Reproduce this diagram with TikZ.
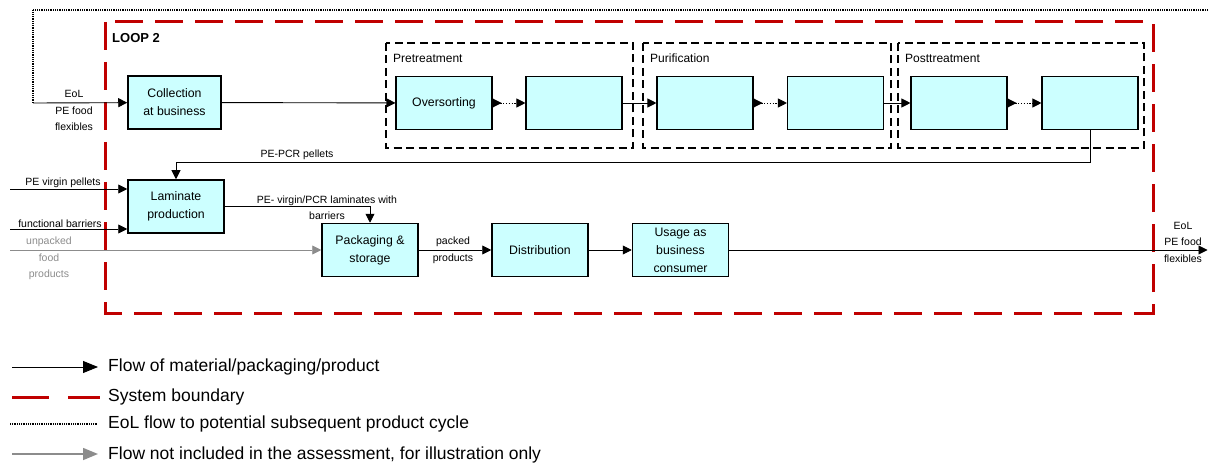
\documentclass[tikz,border=0pt]{standalone}
\usepackage{fontspec}
\setmainfont{Liberation Sans}
\usetikzlibrary{arrows.meta}
\definecolor{boxcyan}{HTML}{CCFFFF}
\definecolor{loopred}{HTML}{C00000}
\definecolor{flowgray}{HTML}{8C8C8C}
\begin{document}
\begin{tikzpicture}[x=1pt,y=-1pt,
  proc/.style={draw,line width=1.5pt,fill=boxcyan,minimum width=96pt,minimum height=53pt,
    inner sep=1pt,align=center,font=\fontsize{12.3}{18}\selectfont},
  subproc/.style={proc,line width=1.1pt},
  flow/.style={line width=0.9pt,-{Triangle[length=9pt,width=9pt]}},
  greyflow/.style={flow,flowgray},
  bigtip/.style={-{Triangle[length=15pt,width=12pt]}},
  dotflow/.style={line width=0.9pt,dash pattern=on 1.2pt off 1.6pt,
    {Triangle[length=9pt,width=9pt,reversed]}-{Triangle[length=9pt,width=9pt]}},
  eolline/.style={line width=2pt,dash pattern=on 1pt off 0.8pt},
  boundary/.style={loopred,line width=3pt,dash pattern=on 28pt off 12pt},
  grp/.style={line width=2.6pt,dash pattern=on 8pt off 4.5pt},
  lbl/.style={align=center,font=\fontsize{10.5}{16.5}\selectfont,inner sep=0pt},
  grplbl/.style={anchor=west,font=\fontsize{12}{14}\selectfont,inner sep=0pt},
  legtext/.style={anchor=west,font=\fontsize{17.5}{20}\selectfont,inner sep=0pt}]
  \useasboundingbox (0,0) rectangle (1208,468);

  % system boundary
  \draw[boundary] (105,22) rectangle (1153,313);
  \node[anchor=west,font=\fontsize{13}{15}\selectfont\bfseries,inner sep=0pt] (loop) at (112,38) {LOOP 2};

  % process groups
  \draw[grp] (386,43) rectangle (633,148);
  \draw[grp] (643,43) rectangle (891,148);
  \draw[grp] (898,43) rectangle (1144,148);
  \node[grplbl] (pretxt) at (393,58) {Pretreatment};
  \node[grplbl] (purtxt) at (650,58) {Purification};
  \node[grplbl] (posttxt) at (905,58) {Posttreatment};

  % processes
  \node[proc,minimum width=93pt] (collect) at (174.5,102.5) {Collection\\at business};
  \node[subproc] (over) at (444,103) {Oversorting};
  \node[subproc] (pre2) at (574,103) {};
  \node[subproc] (pur1) at (705,103) {};
  \node[subproc] (pur2) at (835.5,103) {};
  \node[subproc] (post1) at (959,103) {};
  \node[subproc] (post2) at (1090,103) {};
  \node[proc] (laminate) at (176,206.5) {Laminate\\production};
  \node[proc] (pack) at (370,250) {Packaging \&\\storage};
  \node[proc] (distrib) at (540,250) {Distribution};
  \node[proc] (usage) at (680.5,250) {Usage as\\business\\consumer};

  % loose ends
  \coordinate (topR) at (1208,10);
  \coordinate (topL) at (33,10);
  \coordinate (inL) at (33,103);
  \coordinate (vp) at (10,189);
  \coordinate (fb) at (10,229);
  \coordinate (uf) at (10,250);
  \coordinate (eolR) at (1207.5,250);

  % flows
  \draw[eolline] (topR) -- (topL) -- (inL);
  \draw[flow] (inL) -- (collect);
  \node[lbl] (eolin) at (74,110.5) {EoL\\PE food\\flexibles};
  \draw[flow] (collect) -- (over);
  \draw[dotflow] (over) -- (pre2);
  \draw[flow] (pre2) -- (pur1);
  \draw[dotflow] (pur1) -- (pur2);
  \draw[flow] (pur2) -- (post1);
  \draw[dotflow] (post1) -- (post2);
  \draw[flow] (post2.south) -- ++(0,32) -| (laminate.north);
  \node[lbl] (pcr) at (297,154.5) {PE-PCR pellets};
  \draw[flow] (vp) -- (vp -| laminate.west);
  \node[lbl] (vptxt) at (63,182.5) {PE virgin pellets};
  \draw[flow] (fb) -- (fb -| laminate.west);
  \node[lbl] (fbtxt) at (60,224) {functional barriers};
  \draw[greyflow] (uf) -- (pack);
  \node[lbl,text=flowgray] (uftxt) at (49,258.5) {unpacked\\food\\products};
  \draw[flow] (laminate.east) -| (pack.north);
  \node[lbl] (lamtxt) at (327,207.5) {PE- virgin/PCR laminates with\\barriers};
  \draw[flow] (pack) -- (distrib);
  \node[lbl] (packtxt) at (453,250.5) {packed\\products};
  \draw[flow] (distrib) -- (usage);
  \draw[flow] (usage) -- (eolR);
  \node[lbl] (eolout) at (1183,242) {EoL\\PE food\\flexibles};

  % legend
  \coordinate (l1a) at (12,367); \coordinate (l1b) at (98,367);
  \coordinate (l2a) at (12,397); \coordinate (l2b) at (100,397);
  \coordinate (l3a) at (10,424); \coordinate (l3b) at (97,424);
  \coordinate (l4a) at (12,454); \coordinate (l4b) at (98,454);
  \draw[flow,bigtip] (l1a) -- (l1b);
  \draw[loopred,line width=3pt,dash pattern=on 37pt off 19pt] (l2a) -- (l2b);
  \draw[eolline,line width=1.4pt] (l3a) -- (l3b);
  \draw[greyflow,bigtip,line width=1.5pt] (l4a) -- (l4b);
  \node[legtext] (leg1) at (108,367) {Flow of material/packaging/product};
  \node[legtext] (leg2) at (108,397) {System boundary};
  \node[legtext] (leg3) at (108,424) {EoL flow to potential subsequent product cycle};
  \node[legtext] (leg4) at (108,455) {Flow not included in the assessment, for illustration only};
\end{tikzpicture}
\end{document}
